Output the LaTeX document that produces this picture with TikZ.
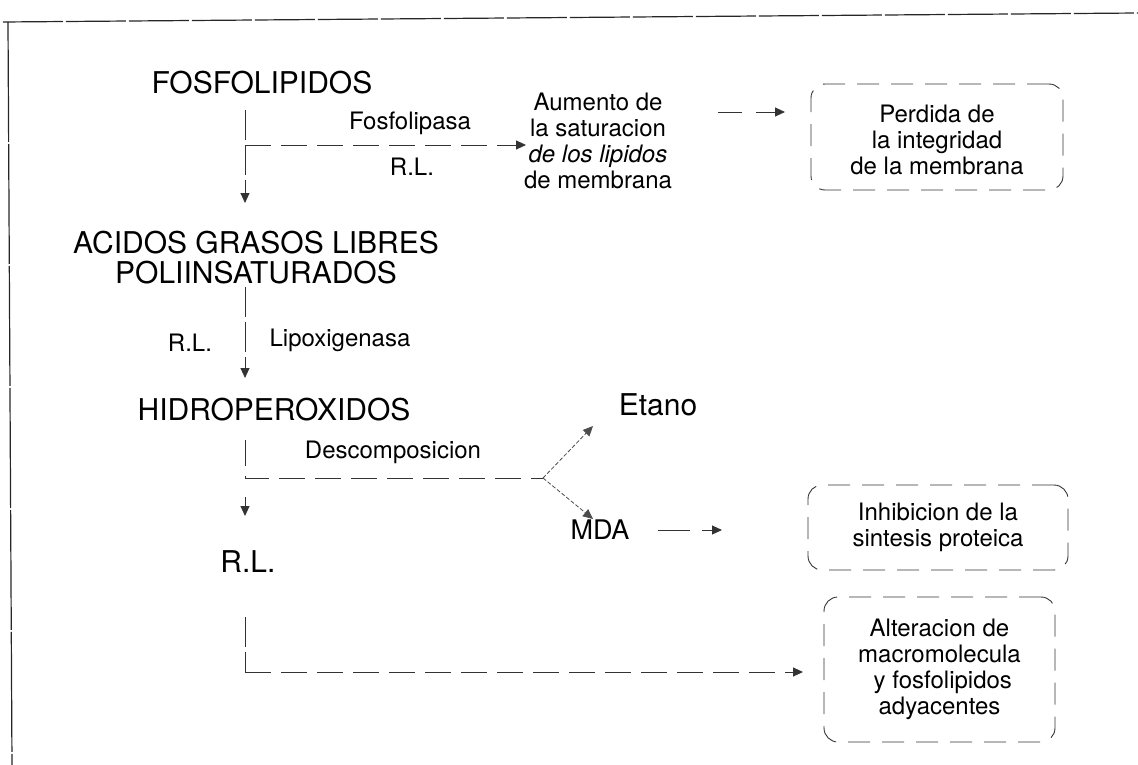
\documentclass[tikz,border=0pt]{standalone}
\usepackage{fontspec}
\setmainfont{TeX Gyre Heros}
\usetikzlibrary{arrows.meta}
\tikzset{
  big/.style={font=\fontsize{30}{32}\selectfont, inner sep=2pt},
  small/.style={font=\fontsize{24}{26}\selectfont, inner sep=2pt, align=center},
  conn/.style={draw=black!80, line width=0.9pt, dash pattern=on 26pt off 10pt},
  vconn/.style={draw=black!80, line width=0.9pt, dash pattern=on 30pt off 5pt},
  tip/.style={-{Triangle[length=10pt,width=9pt]}},
  effbox/.style={draw=black!80, line width=0.9pt, rounded corners=14pt, dash pattern=on 22pt off 12pt,
    font=\fontsize{24}{26}\selectfont, align=center, inner sep=0pt},
  frameline/.style={draw=black!85, line width=1.2pt}
}
\begin{document}
\begin{tikzpicture}[x=1pt,y=-1pt]
\useasboundingbox (0,0) rectangle (1138,765);
% frame
\coordinate (fa) at (3,22);
\coordinate (fb) at (1138,13);
\coordinate (fc) at (8,22);
\coordinate (fd) at (12,765);
\draw[frameline, dash pattern=on 60pt off 3pt] (fa) -- (fb);
\draw[frameline, dash pattern=on 120pt off 2pt] (fc) -- (fd);

% main nodes
\node[big] (fos) at (262,83) {FOSFOLIPIDOS};
\node[big, align=center, font=\fontsize{30}{30}\selectfont] (acidos) at (256,258) {ACIDOS GRASOS LIBRES\\POLIINSATURADOS};
\node[big] (hidro) at (274,410) {HIDROPEROXIDOS};
\node[big] (rl) at (248,562) {R.L.};
\node[big] (etano) at (658,405) {Etano};
\node[big, font=\fontsize{27}{29}\selectfont] (mda) at (600,530) {MDA};

\node[small] (aumento) at (598,141) {Aumento de\\la saturacion\\{\itshape de los lipidos}\\de membrana};
\node[effbox, minimum width=252pt, minimum height=106pt] (perdida) at (937,137) {};
\node[small] (perdidatxt) at (937,140) {Perdida de\\la integridad\\de la membrana};
\node[effbox, minimum width=260pt, minimum height=85pt] (inhib) at (938,527.5) {Inhibicion de la\\sintesis proteica};
\node[effbox, minimum width=231pt, minimum height=145pt] (alter) at (939.5,669.5) {Alteracion de\\macromolecula\\\ y fosfolipidos\\adyacentes};

% labels
\node[small] (fosfolipasa) at (410,123) {Fosfolipasa};
\node[small] (rl1) at (412,167) {R.L.};
\node[small] (rl2) at (190,343) {R.L.};
\node[small] (lipox) at (340,340) {Lipoxigenasa};
\node[small] (desc) at (393,452) {Descomposicion};

% connectors: FOSFOLIPIDOS
\coordinate (s1) at (245,110);
\coordinate (b1) at (245,145);
\coordinate (t1) at (245,203);
\coordinate (h1) at (526,145);
\draw[vconn, tip] (s1) -- (t1);
\draw[conn, tip] (b1) -- (h1);

% Aumento -> Perdida
\coordinate (a1) at (718,112);
\coordinate (a2) at (785,112);
\draw[conn, tip, dash pattern=on 24pt off 14pt] (a1) -- (a2);

% ACIDOS -> HIDRO
\coordinate (s2) at (245,287);
\coordinate (t2) at (245,378);
\draw[vconn, tip] (s2) -- (t2);

% HIDRO -> decomposicion fork
\coordinate (s3) at (245,440);
\coordinate (b3) at (245,478);
\coordinate (fk) at (543,478);
\coordinate (te) at (593,426);
\coordinate (tm) at (593,519);
\draw[conn] (s3) -- (b3) -- (fk);
\draw[draw=black!70, line width=0.8pt, dash pattern=on 4pt off 2pt, tip] (fk) -- (te);
\draw[draw=black!70, line width=0.8pt, dash pattern=on 4pt off 2pt, tip] (fk) -- (tm);

% HIDRO -> R.L.
\coordinate (s4) at (245,497);
\coordinate (t4) at (245,516);
\draw[vconn, tip] (s4) -- (t4);

% MDA -> Inhibicion
\coordinate (m1) at (658,530);
\coordinate (m2) at (722,530);
\draw[conn, tip, dash pattern=on 32pt off 12pt] (m1) -- (m2);

% R.L. -> Alteracion
\coordinate (s5) at (245,617);
\coordinate (b5) at (245,672);
\coordinate (t5) at (803,672);
\draw[vconn] (s5) -- (b5);
\draw[conn, tip] (b5) -- (t5);
\end{tikzpicture}
\end{document}
